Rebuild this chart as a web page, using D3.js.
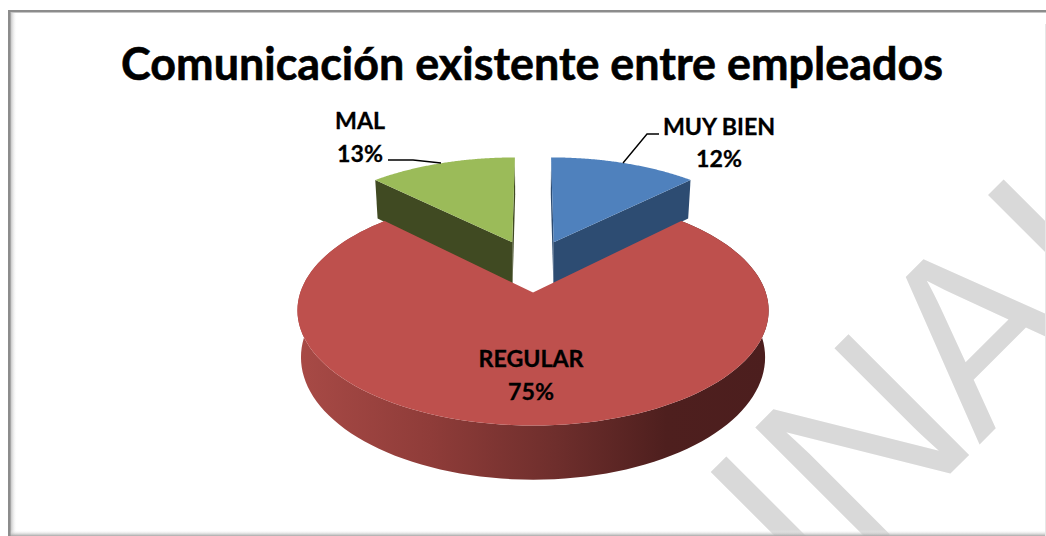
<!DOCTYPE html>
<html><head><meta charset="utf-8">
<script src="https://cdn.jsdelivr.net/npm/d3@7"></script>
<style>html,body{margin:0;padding:0;background:#fff}svg{display:block}text{font-family:Lato,"Open Sans",sans-serif}</style>
</head><body><div id="chart"></div>
<script>
const titleText = "Comunicación existente entre empleados";
const categories = ["MUY BIEN", "REGULAR", "MAL"];
const values = [12.49, 75, 12.51];
const topColors = ["#4f81bd", "#be504d", "#9bbb59"];
const sideColors = ["#2d4c72", "#a84a46", "#404a22"];
const watermarkText = "INAL";

const W = 1046, H = 536;
const svg = d3.select("#chart").append("svg").attr("width", W).attr("height", H);
const defs = svg.append("defs");

const sl = defs.append("linearGradient").attr("id","shadeL");
sl.append("stop").attr("offset",0).attr("stop-color","#b4b4b4");
sl.append("stop").attr("offset",1).attr("stop-color","#fff").attr("stop-opacity",0);
const sb = defs.append("linearGradient").attr("id","shadeB").attr("x1",0).attr("y1",0).attr("x2",0).attr("y2",1);
sb.append("stop").attr("offset",0).attr("stop-color","#fff").attr("stop-opacity",0);
sb.append("stop").attr("offset",1).attr("stop-color","#a8a8a8");
const wall = defs.append("linearGradient").attr("id","wallRed").attr("gradientUnits","userSpaceOnUse")
  .attr("x1",298).attr("x2",770).attr("y1",0).attr("y2",0);
[[0,"#a84a46"],[0.28,"#8f3c39"],[0.55,"#6e2e2c"],[0.78,"#4e1f1e"],[1,"#4c1e1e"]].forEach(s=>
  wall.append("stop").attr("offset",s[0]).attr("stop-color",s[1]));

// watermark
svg.append("text").text(watermarkText)
  .attr("transform","rotate(-45) translate(147,1007) scale(1,1.05)")
  .attr("dx","0 0 -5 6")
  .attr("style","font-family:'Liberation Sans',sans-serif;font-size:236px;fill:#d9d9d9");

// frame
svg.append("rect").attr("x",10).attr("y",13).attr("width",7).attr("height",H-13).attr("fill","url(#shadeL)");
svg.append("rect").attr("x",10).attr("y",H-6).attr("width",W-10).attr("height",6).attr("fill","url(#shadeB)");
svg.append("rect").attr("x",8).attr("y",10).attr("width",W-8).attr("height",2.5).attr("fill","#8c8c8c");
svg.append("rect").attr("x",8).attr("y",10).attr("width",2.5).attr("height",H-10).attr("fill","#8c8c8c");
svg.append("rect").attr("x",W-1).attr("y",24).attr("width",1).attr("height",H-24).attr("fill","#e6e6e6");

// projected 3-D pie
const P = {cx:533, cy:265.5, rx:224, ry:104, k:0.15, explode:0.25, depth:44, shrink:0.015};
function project(u, v, z){
  const den = 1 + P.k*v;
  return [P.cx + P.rx*u/den*(1 - P.shrink*z), P.cy - P.ry*v/den + z*P.depth/den];
}
const arcs = d3.pie().sort(null)(values);
const line = d3.line();
function sliceGeo(a){
  const mid = (a.startAngle + a.endAngle)/2;
  const ou = P.explode*Math.sin(mid), ov = P.explode*Math.cos(mid);
  const rim = z => d3.range(0, 121).map(i=>{
    const t = a.startAngle + (a.endAngle-a.startAngle)*i/120;
    return project(ou+Math.sin(t), ov+Math.cos(t), z);
  });
  const apex = z => project(ou, ov, z);
  return {rim, apex};
}
const pieG = svg.append("g");
[0,2,1].forEach(i=>{
  const g = sliceGeo(arcs[i]);
  const top = g.rim(0), bot = g.rim(1);
  const a0 = g.apex(0), a1 = g.apex(1);
  const side = i===1 ? "url(#wallRed)" : sideColors[i];
  if(i===1){
    pieG.append("path").attr("d", line(top.concat(bot.slice().reverse()))+"Z").attr("fill",side);
  } else {
    const edge = i===0 ? top[top.length-1] : top[0];
    const edgeB = i===0 ? bot[bot.length-1] : bot[0];
    pieG.append("path").attr("d", line([a0,edge,edgeB,a1])+"Z").attr("fill",side);
    const other = i===0 ? top[0] : top[top.length-1];
    const otherB = i===0 ? bot[0] : bot[bot.length-1];
    pieG.append("path").attr("d", line([a0,other,otherB,a1])+"Z").attr("fill",side);
  }
  pieG.append("path").attr("d", line([a0].concat(top))+"Z").attr("fill",topColors[i]);
});

// leaders
const leaders = [
  [[623,163],[647,134],[659,134]],
  [[388,160],[413,160],[441,163]]
];
svg.selectAll("path.lead").data(leaders).enter().append("path").attr("class","lead")
  .attr("d", d=>line(d)).attr("fill","none").attr("stroke","#000").attr("stroke-width",1.4);

// text
svg.append("text").text(titleText).attr("x",532).attr("y",80).attr("text-anchor","middle")
  .attr("font-size",44.9).attr("font-weight",700).attr("fill","#000").attr("stroke","#000").attr("stroke-width",0.6);
const labelPos = [[719,135,167],[531,367,400],[360,129,162]];
const fmt = d3.format(".0f");
categories.forEach((c,i)=>{
  const t = svg.append("text").attr("text-anchor","middle").attr("font-size",23.2).attr("font-weight",700)
    .attr("fill","#000").attr("stroke","#000").attr("stroke-width",0.3);
  t.append("tspan").attr("x",labelPos[i][0]).attr("y",labelPos[i][1]).text(c);
  t.append("tspan").attr("x",labelPos[i][0]).attr("y",labelPos[i][2]).text(fmt(values[i])+"%");
});
</script></body></html>
